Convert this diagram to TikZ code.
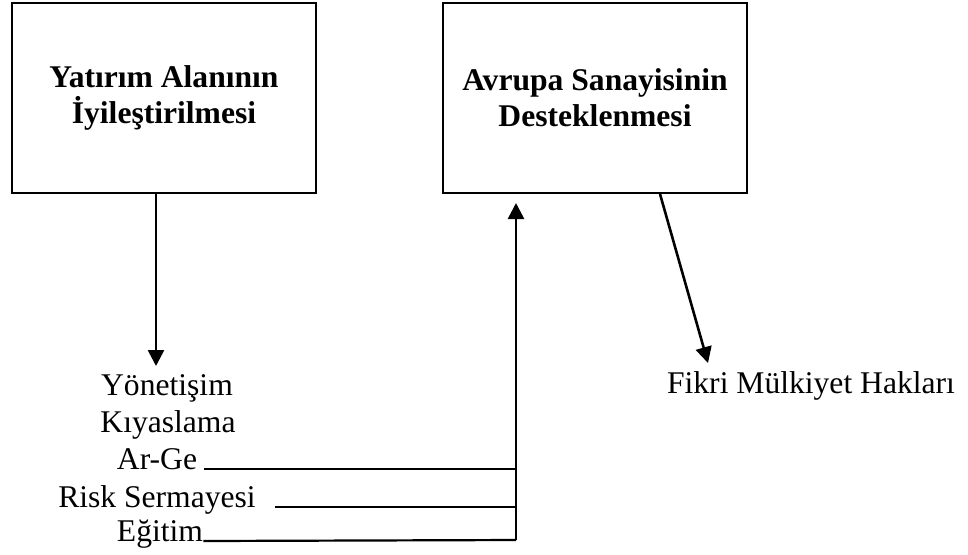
\documentclass[tikz,border=0pt]{standalone}
\usepackage{fontspec}
\setmainfont{Liberation Serif}
\usetikzlibrary{arrows.meta}

\begin{document}
\begin{tikzpicture}[x=0.5pt, y=-0.5pt,
    every node/.style={font=\fontsize{15.8}{18}\selectfont},
    titlebox/.style={draw, line width=1pt, minimum width=152pt, minimum height=95pt,
      align=center, font=\fontsize{15.8}{18}\selectfont\bfseries},
    item/.style={inner sep=0pt, anchor=base},
    arr/.style={line width=1.3pt, -{Triangle[length=8pt, width=8pt]}},
    link/.style={line width=1.1pt}]
   % Sizes
   \pgfmathsetmacro{\riserx}{516}
   \useasboundingbox (0,0) rectangle (968,554);

   % boxes
   \node[titlebox] (yatirim) at (164,98) {Yatırım Alanının\\İyileştirilmesi};
   \node[titlebox] (avrupa) at (595,98) {Avrupa Sanayisinin\\Desteklenmesi};

   % items
   \node[item] (yonetisim) at (167,395) {Yönetişim};
   \node[item] (kiyaslama) at (168,432) {Kıyaslama};
   \node[item] (arge) at (157,469) {Ar-Ge};
   \node[item] (risk) at (157,507) {Risk Sermayesi};
   \node[item] (egitim) at (160,541) {Eğitim};
   \node[item] (fikri) at (811,393) {Fikri Mülkiyet Hakları};

   % connector ends
   \coordinate (downtip) at (156,366);
   \coordinate (riser) at (\riserx,540);
   \coordinate (risertip) at (\riserx,203);
   \coordinate (fikritip) at (708,363);

   % arrows
   \draw[arr] ([xshift=-4pt]yatirim.south) -- (downtip);
   \draw[arr] (riser) -- (risertip);
   \draw[arr] ([xshift=32.5pt]avrupa.south) -- (fikritip);

   % links
   \draw[link] ([xshift=3.5pt]arge.base east) -- (arge.base east -| riser);
   \draw[link] ([xshift=9.5pt]risk.base east) -- (risk.base east -| riser);
   \draw[link] (egitim.base east) -- (riser);
\end{tikzpicture}
\end{document}
